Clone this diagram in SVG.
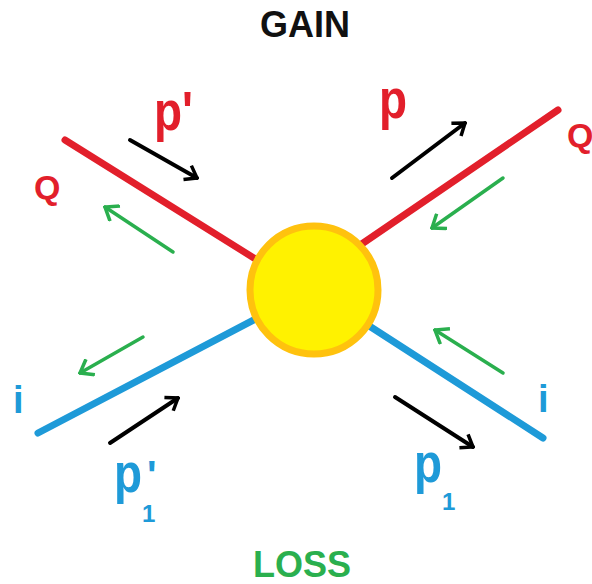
<svg xmlns="http://www.w3.org/2000/svg" width="592" height="584" viewBox="0 0 592 584">
<style>
.lbl{font-family:"Liberation Sans",Arial,sans-serif;font-weight:bold}
.red{fill:#E21F2B}
.blue{fill:#1E9AD8}
.leg{stroke-width:7;stroke-linecap:round;fill:none}
.blk{stroke:#000;stroke-width:4;fill:none;stroke-linecap:round}
.grn{stroke:#2AAF4E;stroke-width:3.5;fill:none;stroke-linecap:round}
</style>
<defs>
<marker id="hb" markerUnits="userSpaceOnUse" viewBox="-14 -10 16 20" refX="0" refY="0" markerWidth="16" markerHeight="20" orient="auto">
<path d="M-11,-8 L0,0 L-11,8" fill="none" stroke="#000" stroke-width="3.5" stroke-linejoin="miter"/>
</marker>
<marker id="hg" markerUnits="userSpaceOnUse" viewBox="-14 -10 16 20" refX="0" refY="0" markerWidth="16" markerHeight="20" orient="auto">
<path d="M-12,-9 L0,0 L-12,9" fill="none" stroke="#2AAF4E" stroke-width="3.5" stroke-linejoin="miter"/>
</marker>
</defs>
<rect width="592" height="584" fill="#fff"/>
<g id="connectors">
<line class="leg" x1="65" y1="140" x2="270" y2="268" stroke="#E21F2B"/>
<line class="leg" x1="558" y1="110" x2="350" y2="252" stroke="#E21F2B"/>
<line class="leg" x1="38" y1="433" x2="265" y2="314" stroke="#1E9AD8"/>
<line class="leg" x1="543" y1="438" x2="360" y2="320" stroke="#1E9AD8"/>
<line class="blk" x1="130" y1="140" x2="197" y2="178" marker-end="url(#hb)"/>
<line class="blk" x1="392" y1="178" x2="465" y2="123" marker-end="url(#hb)"/>
<line class="blk" x1="110" y1="443" x2="178" y2="398" marker-end="url(#hb)"/>
<line class="blk" x1="395" y1="397" x2="473" y2="447" marker-end="url(#hb)"/>
<line class="grn" x1="173" y1="252" x2="105" y2="207" marker-end="url(#hg)"/>
<line class="grn" x1="503" y1="178" x2="432" y2="228" marker-end="url(#hg)"/>
<line class="grn" x1="143" y1="337" x2="80" y2="373" marker-end="url(#hg)"/>
<line class="grn" x1="503" y1="373" x2="435" y2="330" marker-end="url(#hg)"/>
</g>
<g id="center">
<circle cx="314" cy="290" r="64" fill="#FFF200" stroke="#FFC20E" stroke-width="7"/>
</g>
<g id="gain"><text class="lbl" x="305" y="37" font-size="36" text-anchor="middle" fill="#111">GAIN</text></g>
<g id="loss"><text class="lbl" x="302" y="577" font-size="36" text-anchor="middle" fill="#2AAF4E">LOSS</text></g>
<g id="q-left"><text class="lbl red" x="34" y="199" font-size="34">Q</text></g>
<g id="q-right"><text class="lbl red" x="567" y="147" font-size="34">Q</text></g>
<g id="i-left"><text class="lbl blue" x="13" y="413" font-size="38">i</text></g>
<g id="i-right"><text class="lbl blue" x="538" y="412" font-size="38">i</text></g>
<g id="p-prime"><text class="lbl red" transform="translate(154,130) scale(0.82,1)" font-size="56">p'</text></g>
<g id="p"><text class="lbl red" transform="translate(379,118) scale(0.82,1)" font-size="56">p</text></g>
<g id="p1-prime"><text class="lbl blue" transform="translate(114,492) scale(0.82,1)" font-size="56">p</text><text class="lbl blue" x="147" y="489" font-size="40">'</text><text class="lbl blue" x="142" y="522" font-size="24">1</text></g>
<g id="p1"><text class="lbl blue" transform="translate(414,482) scale(0.82,1)" font-size="56">p</text><text class="lbl blue" x="442" y="510" font-size="24">1</text></g>
</svg>
